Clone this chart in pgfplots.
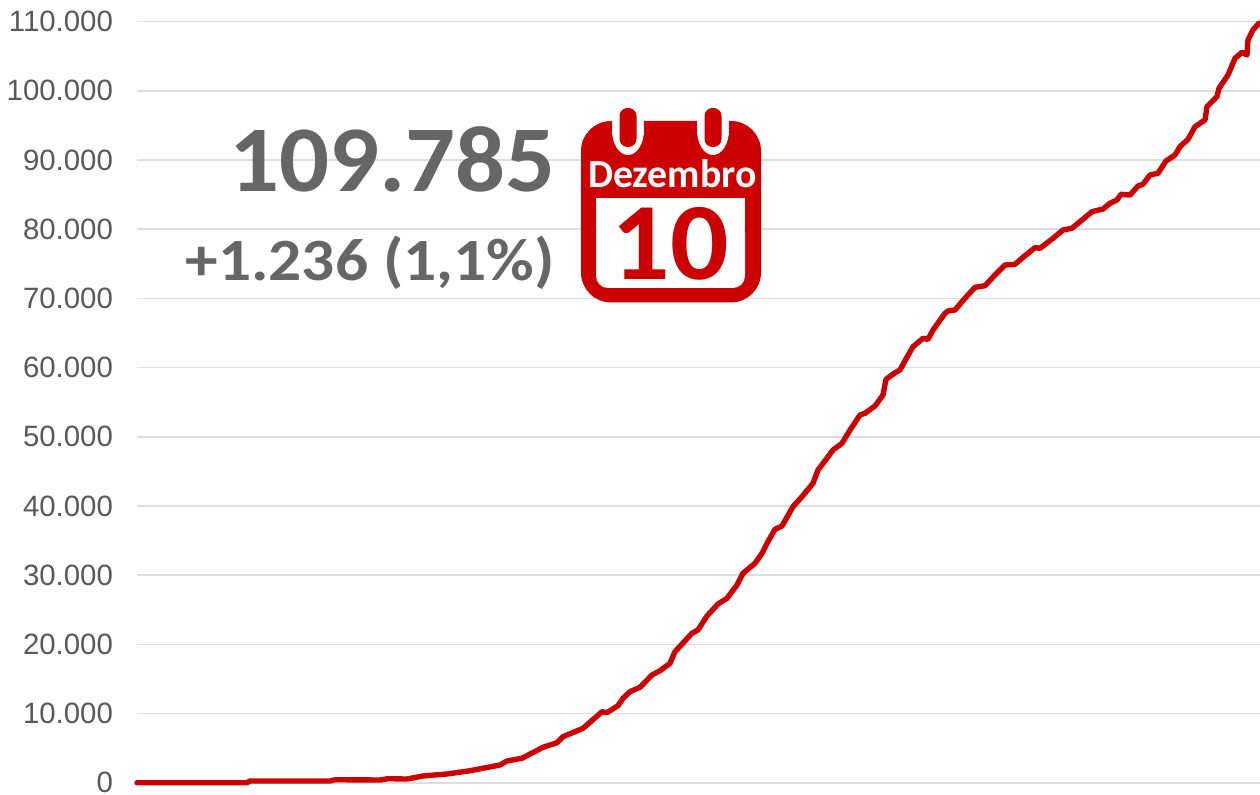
\documentclass[border=0pt]{standalone}
\usepackage{pgfplots}
\pgfplotsset{compat=1.18}
\usepackage{fontspec}
\setmainfont{Liberation Sans}
\newfontfamily\carlito{Carlito}
\definecolor{redline}{HTML}{CC0000}
\definecolor{gridc}{HTML}{DEDEDE}
\definecolor{ticktext}{HTML}{595959}
\definecolor{bigtext}{HTML}{666666}
\begin{document}
\begin{tikzpicture}
\path[use as bounding box] (-68.5pt,-5.65pt) rectangle (561.5pt,391.35pt);
\begin{axis}[
  at={(0pt,0pt)}, anchor=south west,
  scale only axis, width=561.5pt, height=380.5pt,
  xmin=137, xmax=1260, ymin=0, ymax=110000,
  axis x line=none,
  axis y line*=left,
  y axis line style={draw=none},
  ytick={0,10000,20000,30000,40000,50000,60000,70000,80000,90000,100000,110000},
  yticklabels={0,10.000,20.000,30.000,40.000,50.000,60.000,70.000,80.000,90.000,100.000,110.000},
  major tick length=0pt,
  ymajorgrids,
  grid style={gridc,line width=0.8pt},
  scaled y ticks=false,
  tick label style={font=\fontsize{14.7}{16}\selectfont,text=ticktext},
  y tick label style={anchor=east,xshift=-8.5pt},
  clip=false,
]
\addplot[redline,line width=2.7pt,line join=round,line cap=round] coordinates {
(137,0)(247,0)(250,250)(330,250)(335,430)(380,390)(388,580)(407,530)(423,970)(447,1260)(470,1730)(500,2560)(507,3140)(522,3530)(543,5120)(557,5780)(563,6650)(583,7860)(602,10260)(607,10120)(618,11130)(623,12200)(630,13150)(640,13790)(652,15570)(660,16190)(670,17260)(675,18940)(692,21600)(698,22070)(707,24100)(718,25830)(727,26650)(737,28580)(743,30270)(755,31710)(762,33160)(767,34600)(775,36630)(782,37100)(793,39900)(802,41340)(813,43280)(818,45200)(828,47120)(833,48090)(842,49060)(850,50980)(860,53150)(865,53400)(875,54450)(883,56040)(886,58310)(895,59260)(900,59650)(905,61000)(913,63020)(923,64230)(928,64090)(933,65430)(945,67850)(948,68180)(955,68330)(962,69530)(968,70500)(975,71600)(985,71840)(995,73390)(1005,74830)(1015,74930)(1023,75940)(1035,77340)(1040,77250)(1053,78690)(1063,79890)(1072,80140)(1082,81340)(1092,82540)(1103,82930)(1110,83750)(1117,84230)(1121,85050)(1130,84950)(1138,86250)(1143,86500)(1150,87840)(1158,88090)(1166,89870)(1175,90730)(1180,91930)(1188,93000)(1195,94820)(1205,95800)(1207,97720)(1217,99170)(1219,100380)(1228,102300)(1235,104710)(1242,105580)(1247,105190)(1248,107360)(1253,108810)(1259,109785)
};
\end{axis}
\begin{scope}[x=0.5pt,y=-0.5pt,shift={(-68.5pt,391.35pt)}]
  \node[anchor=base east,inner sep=0pt,text=bigtext] at (556,192) {\scalebox{1.05}[1]{\carlito\bfseries\fontsize{47}{50}\selectfont 109.785}};
  \node[anchor=base east,inner sep=0pt,text=bigtext] at (555,281) {\scalebox{1.09}[1]{\carlito\bfseries\fontsize{30}{32}\selectfont +1.236 (1,1\%)}};
  % calendar icon
  \fill[redline,rounded corners=15pt] (581,121) rectangle (761,302.5);
  \fill[white] (612,115) rectangle (644,135);
  \fill[white] (697,115) rectangle (729,135);
  \fill[white] (612,130) arc[start angle=180,end angle=360,x radius=16,y radius=-25];
  \fill[white] (697,130) arc[start angle=180,end angle=360,x radius=16,y radius=-25];
  \fill[redline,rounded corners=4pt] (619.5,108) rectangle (636.5,147);
  \fill[redline,rounded corners=4pt] (704.5,108) rectangle (721.5,147);
  \fill[white,rounded corners=6pt] (596,220) -- (596,288) -- (745,288) -- (745,220) -- cycle;
  \fill[white] (596,198) rectangle (745,230);
  \node[anchor=base,inner sep=0pt,text=white] at (672.5,188) {\carlito\bfseries\fontsize{19.9}{20}\selectfont Dezembro};
  \node[anchor=base,inner sep=0pt,text=redline] at (670,280) {\scalebox{1.05}[1]{\carlito\bfseries\fontsize{55}{57}\selectfont 10}};
\end{scope}
\end{tikzpicture}
\end{document}
